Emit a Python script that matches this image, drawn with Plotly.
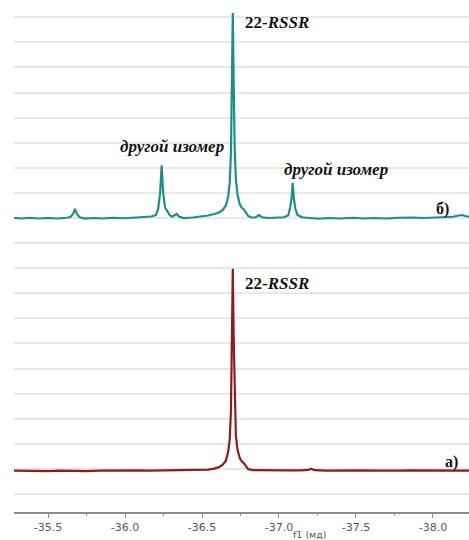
import plotly.graph_objects as go

# ---- data (ppm, intensity above baseline, in gridline units) ----
ppm_b = [-35.279, -35.33, -35.38, -35.44, -35.50, -35.56, -35.62, -35.645, -35.662, -35.675,
         -35.688, -35.705, -35.74, -35.80, -35.86, -35.92, -36.00, -36.06, -36.12, -36.17,
         -36.20, -36.215, -36.228, -36.233, -36.238, -36.243, -36.248, -36.26, -36.275, -36.29,
         -36.305, -36.32, -36.336, -36.35, -36.38, -36.44, -36.50, -36.54, -36.58, -36.61,
         -36.635, -36.655, -36.67, -36.68, -36.688, -36.694, -36.70, -36.706, -36.712, -36.72,
         -36.73, -36.745, -36.76, -36.772, -36.785, -36.80, -36.82, -36.85, -36.87, -36.89,
         -36.93, -36.98, -37.03, -37.06, -37.072, -37.082, -37.089, -37.096, -37.106, -37.12,
         -37.15, -37.20, -37.26, -37.32, -37.40, -37.48, -37.55, -37.62, -37.70, -37.78,
         -37.86, -37.94, -38.01, -38.08, -38.13, -38.17, -38.19, -38.21, -38.234]
int_b = [0.00, -0.02, 0.01, -0.02, 0.00, -0.02, 0.01, 0.04, 0.15, 0.36,
         0.15, 0.03, -0.02, 0.00, -0.02, 0.01, -0.01, 0.01, 0.02, 0.06,
         0.12, 0.35, 1.00, 1.50, 2.10, 1.50, 1.00, 0.42, 0.25, 0.12,
         0.05, 0.09, 0.16, 0.06, 0.00, 0.02, 0.06, 0.10, 0.16, 0.22,
         0.32, 0.50, 0.85, 1.40, 2.60, 5.20, 8.17, 5.30, 2.80, 1.55,
         0.95, 0.55, 0.40, 0.34, 0.20, 0.08, 0.02, 0.03, 0.12, 0.03,
         0.00, 0.01, 0.03, 0.10, 0.40, 0.80, 1.40, 0.80, 0.38, 0.12,
         0.03, 0.00, -0.03, 0.00, -0.02, 0.01, -0.02, 0.00, -0.02, 0.01,
         0.02, 0.00, 0.02, 0.03, 0.05, 0.10, 0.12, 0.08, 0.05]

ppm_a = [-35.279, -35.35, -35.42, -35.50, -35.58, -35.66, -35.75, -35.84, -35.92, -36.00,
         -36.08, -36.16, -36.24, -36.32, -36.40, -36.48, -36.54, -36.58, -36.61, -36.635,
         -36.655, -36.67, -36.68, -36.688, -36.694, -36.70, -36.706, -36.712, -36.72, -36.73,
         -36.745, -36.76, -36.772, -36.785, -36.80, -36.83, -36.90, -36.98, -37.06, -37.14,
         -37.19, -37.21, -37.23, -37.30, -37.38, -37.46, -37.54, -37.62, -37.70, -37.78,
         -37.86, -37.94, -38.02, -38.10, -38.18, -38.234]
int_a = [0.00, -0.01, 0.00, -0.02, 0.00, -0.01, -0.02, 0.00, 0.01, 0.00,
         0.01, 0.00, 0.01, 0.00, 0.01, 0.02, 0.04, 0.08, 0.14, 0.24,
         0.40, 0.75, 1.25, 2.40, 5.10, 8.05, 5.20, 2.70, 1.40, 0.85,
         0.50, 0.36, 0.30, 0.18, 0.06, 0.02, 0.01, 0.00, 0.01, 0.01,
         0.03, 0.08, 0.02, 0.00, 0.01, 0.02, 0.01, 0.00, -0.01, 0.00,
         0.01, 0.00, 0.00, 0.00, 0.00, 0.00]

tick_vals = [-35.5, -36.0, -36.5, -37.0, -37.5, -38.0]
tick_text = ["-35.5", "-36.0", "-36.5", "-37.0", "-37.5", "-38.0"]

OFFSET_B = 11.0   # vertical stacking of spectrum б)
OFFSET_A = 0.93   # vertical stacking of spectrum а)

fig = go.Figure()
fig.add_trace(go.Scatter(x=ppm_b, y=[v + OFFSET_B for v in int_b], mode="lines",
                         line=dict(color="#1c8f87", width=2.2), hoverinfo="skip"))
fig.add_trace(go.Scatter(x=ppm_a, y=[v + OFFSET_A for v in int_a], mode="lines",
                         line=dict(color="#8e1c1c", width=2.2), hoverinfo="skip"))

serif = "Liberation Serif, Times New Roman, serif"
txt = "#141414"
ann = [
    dict(x=-36.766, y=18.78, text="<b>22-<i>RSSR</i></b>", xanchor="left", size=17),
    dict(x=-36.766, y=8.41, text="<b>22-<i>RSSR</i></b>", xanchor="left", size=17),
    dict(x=-36.302, y=13.84, text="<b><i>другой изомер</i></b>", xanchor="center", size=17),
    dict(x=-37.367, y=12.94, text="<b><i>другой изомер</i></b>", xanchor="center", size=17),
    dict(x=-38.062, y=11.36, text="<b>б)</b>", xanchor="center", size=16),
    dict(x=-38.123, y=1.275, text="<b>а)</b>", xanchor="center", size=16),
]
for a in ann:
    fig.add_annotation(x=a["x"], y=a["y"], xref="x", yref="y", text=a["text"],
                       showarrow=False, xanchor=a["xanchor"], yanchor="middle",
                       font=dict(family=serif, size=a["size"], color=txt))

fig.add_annotation(x=0.65, y=-0.0444, xref="paper", yref="paper", text="f1 (мд)",
                   showarrow=False, xanchor="center", yanchor="middle", borderpad=0,
                   font=dict(family="DejaVu Sans, Verdana, sans-serif", size=9.5, color="#4f5966"))

fig.update_layout(
    width=469, height=540,
    margin=dict(l=14, r=0, t=5, b=28),
    paper_bgcolor="white", plot_bgcolor="white",
    showlegend=False,
    xaxis=dict(range=[-35.279, -38.234], tickvals=tick_vals, ticktext=tick_text,
               showgrid=False, zeroline=False, showline=True, linecolor="#8c8c8c", linewidth=1.5,
               ticks="outside", ticklen=4, tickcolor="#8c8c8c", tickwidth=1,
               tickfont=dict(family="DejaVu Sans, Verdana, sans-serif", size=11, color="#4f5966"),
               minor=dict(tickvals=[-35.75, -36.25, -36.75, -37.25, -37.75], ticks="outside",
                          ticklen=2, tickcolor="#8c8c8c", showgrid=False)),
    yaxis=dict(range=[-0.717, 19.49], tick0=0, dtick=1, showticklabels=False,
               showgrid=True, gridcolor="#e8e8e8", gridwidth=2, zeroline=False,
               showline=False, ticks=""),
)

fig.write_html("out.html", config={"displayModeBar": False},
               post_script="document.body.style.margin='0';document.body.style.overflow='hidden';")
